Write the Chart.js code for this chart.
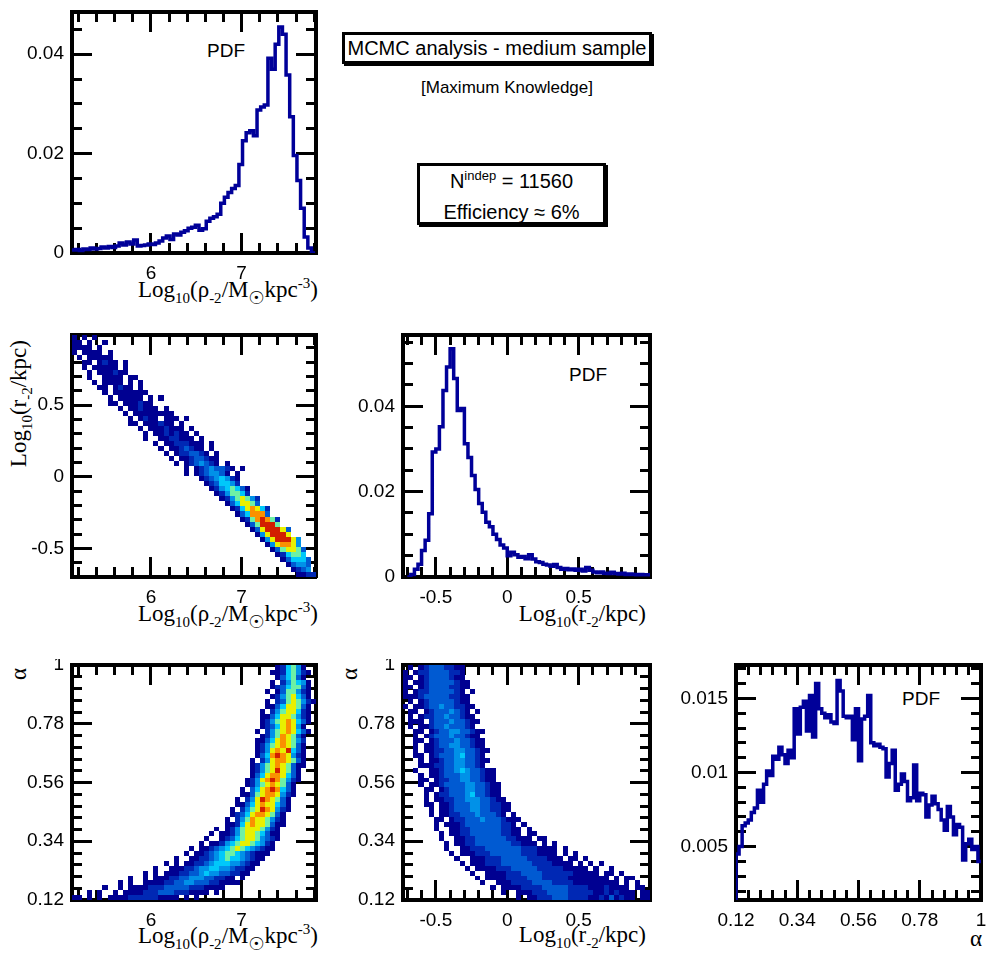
<!DOCTYPE html>
<html>
<head>
<meta charset="utf-8">
<title>MCMC analysis - medium sample</title>
<script src="https://cdn.jsdelivr.net/npm/chart.js@4.4.1/dist/chart.umd.min.js"></script>
<style>
  html, body { margin: 0; padding: 0; background: #fff; }
  body { width: 996px; height: 972px; position: relative; overflow: hidden; font-family: "Liberation Sans", Arial, sans-serif; color: #000; }
  .panel { position: absolute; }
  .ttl { position: absolute; font-family: "Liberation Serif", "Times New Roman", serif; font-size: 23px; line-height: 23px; white-space: nowrap; }
  .ttl .sb { position: relative; top: 6px; font-size: 15px; }
  .ttl .sp { position: relative; top: -9px; font-size: 15px; }
  .ttl .sun { position: relative; top: 7px; font-size: 18px; font-family: "DejaVu Sans", sans-serif; font-weight: bold; }
  .rot { transform-origin: 0 0; transform: rotate(-90deg); text-align: right; width: 200px; }
  .pdf { position: absolute; font-size: 19px; line-height: 19px; transform: translate(-50%, -50%); }
  .box { position: absolute; box-sizing: border-box; border: 3px solid #000; box-shadow: 2px 2px 0 #000; background: #fff; text-align: center; white-space: nowrap; }
  .box .up { position: relative; top: -8px; font-size: 13px; }
</style>
</head>
<body>

<!-- text boxes -->
<div class="box" style="left:342px; top:32px; width:310px; height:32px; font-size:20px; line-height:26px;">MCMC analysis - medium sample</div>
<div style="position:absolute; left:507px; top:88px; transform:translate(-50%,-50%); font-size:17px; white-space:nowrap;">[Maximum Knowledge]</div>
<div class="box" style="left:417px; top:163px; width:189px; height:62px; font-size:20px; line-height:29px; padding-top:1px;">N<span class="up">indep</span> = 11560<br>Efficiency ≈ 6%</div>

<!-- PDF labels -->
<div class="pdf" style="left:226px; top:50px;">PDF</div>
<div class="pdf" style="left:588px; top:374px;">PDF</div>
<div class="pdf" style="left:921px; top:698px;">PDF</div>

<!-- axis titles -->
<div class="ttl" style="right:678px; top:278px;">Log<span class="sb">10</span>(ρ<span class="sb">-2</span>/M<span class="sun">☉</span>kpc<span class="sp">-3</span>)</div>
<div class="ttl" style="right:678px; top:602px;">Log<span class="sb">10</span>(ρ<span class="sb">-2</span>/M<span class="sun">☉</span>kpc<span class="sp">-3</span>)</div>
<div class="ttl" style="right:678px; top:924px;">Log<span class="sb">10</span>(ρ<span class="sb">-2</span>/M<span class="sun">☉</span>kpc<span class="sp">-3</span>)</div>
<div class="ttl" style="right:350px; top:602px;">Log<span class="sb">10</span>(r<span class="sb">-2</span>/kpc)</div>
<div class="ttl" style="right:350px; top:923px;">Log<span class="sb">10</span>(r<span class="sb">-2</span>/kpc)</div>
<div class="ttl" style="right:14px; top:927px;">α</div>
<div class="ttl rot" style="left:7px; top:540px;">Log<span class="sb">10</span>(r<span class="sb">-2</span>/kpc)</div>
<div class="ttl rot" style="left:7px; top:868px;">α</div>
<div class="ttl rot" style="left:338px; top:868px;">α</div>

<script>
// 1D posteriors (histogram bins: first lower edge, bin width, values)
var rhoBinStart = 5.13, rhoBinWidth = 0.04;
var rhoPdf = [
  0.0006, 0.0007, 0.0005, 0.0008, 0.0007, 0.0010, 0.0008, 0.0009, 0.0012, 0.0010,
  0.0013, 0.0011, 0.0014, 0.0020, 0.0016, 0.0022, 0.0018, 0.0026, 0.0014, 0.0015,
  0.0016, 0.0018, 0.0017, 0.0020, 0.0024, 0.0030, 0.0034, 0.0027, 0.0038, 0.0036,
  0.0042, 0.0045, 0.0050, 0.0052, 0.0056, 0.0046, 0.0049, 0.0064, 0.0070, 0.0073,
  0.0078, 0.0100, 0.0112, 0.0122, 0.0130, 0.0136, 0.0178, 0.0226, 0.0242, 0.0246,
  0.0236, 0.0288, 0.0294, 0.0298, 0.0392, 0.0370, 0.0420, 0.0455, 0.0440, 0.0358,
  0.0274, 0.0196, 0.0146, 0.0090, 0.0032, 0.0010, 0.0000
];

var rBinStart = -0.70, rBinWidth = 0.025;
var rPdf = [
  0.0000, 0.0006, 0.0018, 0.0030, 0.0062, 0.0086, 0.0148, 0.0293, 0.0300, 0.0352,
  0.0437, 0.0492, 0.0535, 0.0465, 0.0390, 0.0395, 0.0312, 0.0280, 0.0238, 0.0205,
  0.0172, 0.0152, 0.0128, 0.0118, 0.0100, 0.0088, 0.0075, 0.0068, 0.0050, 0.0058,
  0.0052, 0.0046, 0.0048, 0.0043, 0.0052, 0.0042, 0.0036, 0.0034, 0.0030, 0.0028,
  0.0025, 0.0029, 0.0022, 0.0018, 0.0020, 0.0017, 0.0019, 0.0016, 0.0018, 0.0014,
  0.0022, 0.0016, 0.0012, 0.0010, 0.0012, 0.0009, 0.0008, 0.0011, 0.0008, 0.0007,
  0.0009, 0.0006, 0.0007, 0.0006, 0.0005, 0.0006, 0.0005, 0.0005
];

var alphaBinStart = 0.12, alphaBinWidth = 0.011;
var alphaPdf = [
  0.0045, 0.0050, 0.0064, 0.0066, 0.0068, 0.0073, 0.0076, 0.0088, 0.0080, 0.0092,
  0.0101, 0.0098, 0.0111, 0.0109, 0.0117, 0.0112, 0.0106, 0.0115, 0.0110, 0.0143,
  0.0126, 0.0144, 0.0148, 0.0128, 0.0152, 0.0124, 0.0160, 0.0143, 0.0140, 0.0137,
  0.0139, 0.0134, 0.0133, 0.0162, 0.0155, 0.0138, 0.0137, 0.0138, 0.0122, 0.0143,
  0.0108, 0.0136, 0.0138, 0.0152, 0.0120, 0.0118, 0.0119, 0.0117, 0.0116, 0.0097,
  0.0106, 0.0115, 0.0088, 0.0092, 0.0099, 0.0094, 0.0081, 0.0083, 0.0105, 0.0081,
  0.0086, 0.0085, 0.0070, 0.0078, 0.0084, 0.0079, 0.0075, 0.0068, 0.0061, 0.0077,
  0.0070, 0.0058, 0.0065, 0.0063, 0.0041, 0.0052, 0.0055, 0.0048, 0.0050, 0.0040
];

// axis ranges
var rhoRange = [5.13, 7.82];
var rRangeY = [-0.70, 0.99];
var rRange = [-0.73, 1.0];
var alphaRange = [0.12, 1.0];
var pdfRhoRange = [0, 0.0485];
var pdfRRange = [0, 0.0567];
var pdfAlphaRange = [0.0014, 0.01725];

// tick labels
var rhoTicks = [6, 7];
var rTicks = [-0.5, 0, 0.5];
var alphaTicks = [0.12, 0.34, 0.56, 0.78, 1];
var pdfRhoTicks = [0, 0.02, 0.04];
var pdfRTicks = [0, 0.02, 0.04];
var pdfAlphaTicks = [0.005, 0.01, 0.015];

// 2D posteriors: 48 x 48 cells, each row from the top is [first column, levels 1-9, '.' = empty]
var gridCols = 48, gridRows = 48;

var rhoRRows = [
  [0, '1.1.1'], [0, '11.1..1'], [0, '1111.1'], [0, '1.1111.1'], [1, '1.11111'], [2, '11.1211.1'],
  [2, '1.11111.1'], [3, '1.111211'], [3, '1..1111.11'], [4, '1.1111.1.1'], [5, '11.1211.1'], [6, '1.1111111'],
  [7, '1.11111.1.1'], [7, '11.111211'], [9, '1.112111.1'], [10, '1.11111111'], [11, '1.1211.111.1'], [11, '11.111211.1'],
  [13, '1.1112111.1'], [14, '1.1121211.1'], [14, '1..1122111.1'], [16, '1.11222111.1'], [17, '1.1123211.1'], [18, '1.1223321.1'],
  [19, '1.11233211.'], [20, '1.1234321.1'], [22, '1.12343321.1'], [22, '1.1234431.1'], [25, '12345421'], [26, '1235542'],
  [27, '12456531'], [28, '1246652'], [29, '12467642'], [30, '1357763'], [31, '12578752'], [32, '1358883'],
  [33, '12689862'], [34, '1369996'], [35, '13799973'], [36, '1479997'], [37, '14799974'], [38, '1478874'],
  [39, '1367763'], [40, '125665'], [41, '135553'], [42, '13443'], [43, '1234'], [44, '1122']
];

var rhoAlphaRows = [
  [40, '125641'], [39, '11256421'], [40, '135631'], [39, '1.246541'], [39, '12356631'],
  [38, '1.1366421'], [39, '12467531'], [38, '1.23676421'], [38, '113577631'], [37, '1.24677521'],
  [37, '1135776421'], [37, '1246787531'], [37, '123578741'], [36, '1.246787531'], [37, '124687631'],
  [36, '1135787642.'], [36, '1246787631'], [36, '1247879531'], [36, '1358987421'], [35, '1.247887631'],
  [35, '12467876311'], [35, '1246797631'], [35, '1357887531'], [34, '12478986421'], [34, '1246787631'],
  [33, '1.357898531'], [33, '11367887421'], [32, '1.247987631'], [32, '11357877531'], [31, '1.2467987421'],
  [31, '12357887631'], [30, '1.2468776421'], [30, '112578776311'], [28, '1.12467776421'], [27, '1.112467765311'],
  [26, '1..123567764321'], [25, '1.1124567765421'], [23, '1.112345676543211'], [22, '1.112345665432111'],
  [20, '1..112234565543211'], [18, '1.1.112234555443211'], [16, '1..11122344554432211'],
  [14, '1.1.11122334544332211'], [11, '1..1.1112233444332211.1'], [9, '1.1..1111223344333221111'],
  [6, '1..1.1111222333332221111.'], [3, '1.1..1.11112223332221111.1'], [0, '11.1.1.11112222221111.1.1']
];

var rAlphaRows = [
  [1, '1.123332211'], [0, '1.1223333221.'], [0, '11.123333211.'], [0, '1.11233333211.'],
  [0, '11.1233332211'], [0, '1.1223333321.1'], [0, '1112333332211'], [1, '1.1233333211.'],
  [0, '1.112334332211'], [1, '11.123334321.1'], [1, '1.12233433211'], [1, '111.2333433211'],
  [1, '1.11233433321.'], [2, '11.12334433211'], [2, '1.12333433211'], [2, '11.12333433211'],
  [2, '1.112334433211'], [2, '1.1122334433211'], [2, '11.12333453321'], [3, '1.112334433211'],
  [3, '1112233443321.'], [2, '1..1123345433211'], [3, '1.1123334433211'], [3, '11.122334433211'],
  [3, '1.11233334433211'], [4, '11.123334433211'], [4, '1.1223334533211'], [4, '1.11223344433211'],
  [4, '11.11233344332211'], [5, '1.11233344332211'], [5, '1.1122333433321.1'], [6, '11.12233343332111'],
  [6, '1.11123333333221.1'], [6, '1..11223333332211.1'], [7, '1.11223333332211.11'], [7, '1..112233333322111.11'],
  [8, '1.1122333333322111.1.1'], [8, '1..1122233333332221111.1'], [9, '1.1112223333332221111.1.1'],
  [10, '1..111222333332222111.11.1'], [11, '1.11122233333322221111.1.1.1'], [12, '1.1111222333332222211111.1..1'],
  [13, '1..1111222333322222211111.11.1'], [14, '1.111122223332222211111111.1.11'],
  [15, '1..111222233332222111111111.1.1'], [17, '1.1111222233333222211121111.11'],
  [19, '1..11122233332222211212111.11'], [22, '1.112223332222112131211.11']
];

// colour scale of the cells, level 1 (lowest) to 9 (highest)
var heatColors = ['', 'rgb(0,0,145)', 'rgb(0,40,180)', 'rgb(0,90,210)', 'rgb(0,145,232)',
  'rgb(0,200,250)', 'rgb(110,240,165)', 'rgb(232,240,0)', 'rgb(250,145,0)', 'rgb(210,30,0)'];

var lineColor = '#000099';
var tickFont = { family: '"Liberation Sans", Arial, sans-serif', size: 19 };

// minor tick spacing of each axis
var rhoMinor = { origin: 6, step: 0.2, major: rhoTicks };
var rMinor = { origin: 0, step: 0.1, major: rTicks };
var alphaMinor = { origin: 0.12, step: 0.044, major: alphaTicks };
var pdfRhoMinor = { origin: 0, step: 0.005, major: pdfRhoTicks };
var pdfRMinor = { origin: 0, step: 0.005, major: pdfRTicks };
var pdfAlphaMinor = { origin: 0, step: 0.001, major: pdfAlphaTicks };

function histPoints(start, width, values) {
  var pts = values.map(function (v, i) { return { x: start + i * width, y: v }; });
  pts.push({ x: start + values.length * width, y: values[values.length - 1] });
  return pts;
}

// minor tick values between the labelled ones
function minorValues(range, spec) {
  var out = [];
  var k0 = Math.ceil((range[0] - spec.origin) / spec.step - 1e-6);
  var k1 = Math.floor((range[1] - spec.origin) / spec.step + 1e-6);
  for (var k = k0; k <= k1; k++) {
    var v = spec.origin + k * spec.step;
    var isMajor = spec.major.some(function (m) { return Math.abs(m - v) < spec.step * 0.01; });
    if (!isMajor) out.push(v);
  }
  return out;
}

// 2D histogram cells placed through the chart scales
function heatLayer(rows, xr, yr) {
  return {
    id: 'heat',
    beforeDatasetsDraw: function (chart) {
      var ctx = chart.ctx, a = chart.chartArea;
      var sx = chart.scales.x, sy = chart.scales.y;
      var dx = (xr[1] - xr[0]) / gridCols, dy = (yr[1] - yr[0]) / gridRows;
      ctx.save();
      ctx.beginPath();
      ctx.rect(a.left, a.top, a.right - a.left, a.bottom - a.top);
      ctx.clip();
      rows.forEach(function (row, j) {
        var c0 = row[0], s = row[1];
        var py0 = Math.round(sy.getPixelForValue(yr[1] - j * dy));
        var py1 = Math.round(sy.getPixelForValue(yr[1] - (j + 1) * dy));
        for (var k = 0; k < s.length; k++) {
          var lv = s.charCodeAt(k) - 48;
          if (lv < 1 || lv > 9) continue;
          var c = c0 + k;
          var px0 = Math.round(sx.getPixelForValue(xr[0] + c * dx));
          var px1 = Math.round(sx.getPixelForValue(xr[0] + (c + 1) * dx));
          ctx.fillStyle = heatColors[lv];
          ctx.fillRect(px0, py0, px1 - px0, py1 - py0);
        }
      });
      ctx.restore();
    }
  };
}

// one side of the frame: its border, inward tick marks of one length, labels only on the left/bottom major scale
function sideScale(axisName, position, range, values, tickLen, withBorder, withLabels, weight) {
  var horizontal = position === 'top' || position === 'bottom';
  return {
    axis: axisName,
    position: position,
    type: 'linear',
    min: range[0],
    max: range[1],
    weight: weight,
    grid: { display: true, drawOnChartArea: false, drawTicks: true, tickLength: -tickLen, tickWidth: 3, tickColor: '#000' },
    border: { display: withBorder, width: 4, color: '#000' },
    ticks: {
      display: withLabels, color: '#000', font: tickFont,
      padding: horizontal ? 9 + tickLen : 8 + tickLen,
      autoSkip: false, maxRotation: 0,
      callback: function (v) { return String(v); }
    },
    afterBuildTicks: function (s) { s.ticks = values.map(function (v) { return { value: v }; }); },
    afterFit: function (s) {
      if (horizontal) { s.height = withLabels ? 34 : 0; s.paddingLeft = 0; s.paddingRight = 0; }
      else { s.width = withLabels ? 72 : 0; s.paddingTop = 0; s.paddingBottom = 0; }
    }
  };
}

function frameScales(xr, yr, xt, yt, xs, ys) {
  var xm = minorValues(xr, xs), ym = minorValues(yr, ys);
  return {
    x: sideScale('x', 'bottom', xr, xt, 20, true, true, 1),
    xMinor: sideScale('x', 'bottom', xr, xm, 10, false, false, 0),
    xTop: sideScale('x', 'top', xr, xt, 20, true, false, 1),
    xTopMinor: sideScale('x', 'top', xr, xm, 10, false, false, 0),
    y: sideScale('y', 'left', yr, yt, 20, true, true, 1),
    yMinor: sideScale('y', 'left', yr, ym, 10, false, false, 0),
    yRight: sideScale('y', 'right', yr, yt, 20, true, false, 1),
    yRightMinor: sideScale('y', 'right', yr, ym, 10, false, false, 0)
  };
}

// frame = [left, top, right, bottom] of the plotting area in page pixels
function panel(frame, type, datasets, xr, yr, xt, yt, xs, ys, heatRows) {
  var holder = document.createElement('div');
  holder.className = 'panel';
  holder.style.left = (frame[0] - 72) + 'px';
  holder.style.top = (frame[1] - 6) + 'px';
  var cv = document.createElement('canvas');
  cv.width = frame[2] - frame[0] + 86;
  cv.height = frame[3] - frame[1] + 40;
  holder.appendChild(cv);
  document.body.appendChild(holder);
  return new Chart(cv, {
    type: type,
    data: { datasets: datasets },
    options: {
      responsive: false,
      animation: false,
      events: [],
      layout: { padding: { top: 6, right: 14, left: 0, bottom: 0 } },
      plugins: { legend: { display: false }, tooltip: { enabled: false } },
      scales: frameScales(xr, yr, xt, yt, xs, ys)
    },
    plugins: heatRows ? [heatLayer(heatRows, xr, yr)] : []
  });
}

function pdfLine(points) {
  return {
    data: points,
    xAxisID: 'x',
    yAxisID: 'y',
    stepped: true,
    borderColor: lineColor,
    borderWidth: 3.5,
    borderJoinStyle: 'miter',
    pointRadius: 0,
    pointHoverRadius: 0,
    fill: false,
    tension: 0
  };
}

// top-left: PDF of log rho
panel([72, 12, 316, 253], 'line', [pdfLine(histPoints(rhoBinStart, rhoBinWidth, rhoPdf))],
  rhoRange, pdfRhoRange, rhoTicks, pdfRhoTicks, rhoMinor, pdfRhoMinor);

// middle-left: log rho vs log r
panel([72, 335, 316, 577], 'scatter', [], rhoRange, rRangeY, rhoTicks, rTicks, rhoMinor, rMinor, rhoRRows);

// middle: PDF of log r
panel([403, 335, 650, 577], 'line', [pdfLine(histPoints(rBinStart, rBinWidth, rPdf))],
  rRange, pdfRRange, rTicks, pdfRTicks, rMinor, pdfRMinor);

// bottom-left: log rho vs alpha
panel([72, 665, 316, 900], 'scatter', [], rhoRange, alphaRange, rhoTicks, alphaTicks, rhoMinor, alphaMinor, rhoAlphaRows);

// bottom-middle: log r vs alpha
panel([403, 665, 650, 900], 'scatter', [], rRange, alphaRange, rTicks, alphaTicks, rMinor, alphaMinor, rAlphaRows);

// bottom-right: PDF of alpha (starts from the bottom of the frame)
var alphaPoints = [{ x: alphaBinStart, y: 0 }].concat(histPoints(alphaBinStart, alphaBinWidth, alphaPdf));
panel([736, 665, 981, 900], 'line', [pdfLine(alphaPoints)],
  alphaRange, pdfAlphaRange, alphaTicks, pdfAlphaTicks, alphaMinor, pdfAlphaMinor);
</script>
</body>
</html>
